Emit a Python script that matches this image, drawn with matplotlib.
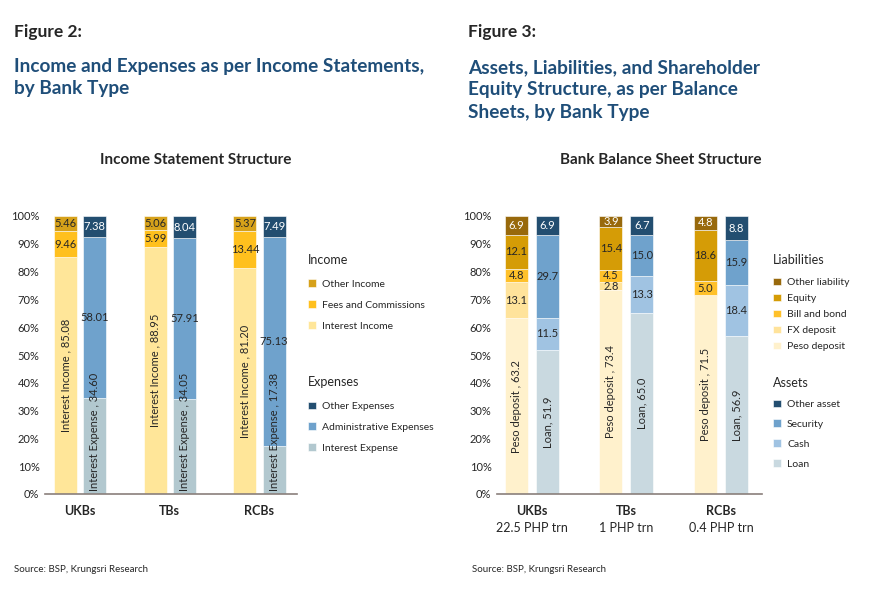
import numpy as np
import matplotlib
matplotlib.use("Agg")
import matplotlib.pyplot as plt
from matplotlib.ticker import PercentFormatter

plt.rcParams['font.family'] = ['Lato', 'DejaVu Sans']

banks = ['UKBs', 'TBs', 'RCBs']
bank_size = ['22.5 PHP trn', '1 PHP trn', '0.4 PHP trn']

# Figure 2: income statement structure (% share)
interest_income = [85.08, 88.95, 81.20]
fees_commissions = [9.46, 5.99, 13.44]
other_income = [5.46, 5.06, 5.37]
interest_expense = [34.60, 34.05, 17.38]
admin_expense = [58.01, 57.91, 75.13]
other_expense = [7.38, 8.04, 7.49]

# Figure 3: balance sheet structure (% share)
peso_deposit = [63.2, 73.4, 71.5]
fx_deposit = [13.1, 2.8, 0.0]
bill_bond = [4.8, 4.5, 5.0]
equity = [12.1, 15.4, 18.6]
other_liab = [6.9, 3.9, 4.8]
loan = [51.9, 65.0, 56.9]
cash = [11.5, 13.3, 18.4]
security = [29.7, 15.0, 15.9]
other_asset = [6.9, 6.7, 8.8]

TXT = '#262626'
NAVY = '#1F4E79'

fig = plt.figure(figsize=(8.7, 6.03), dpi=100)
W, H = 870, 603


def px_axes(x0, x1, ytop, ybot):
    return fig.add_axes([x0 / W, 1 - ybot / H, (x1 - x0) / W, (ybot - ytop) / H])


def stack(ax, xpos, width, series, names, colors, fmt, first_label, dark):
    bottom = np.zeros(len(xpos))
    handles = []
    rot_texts = []
    for k, (vals, name, col) in enumerate(zip(series, names, colors)):
        vals = np.array(vals, dtype=float)
        bars = ax.bar(xpos, vals, width, bottom=bottom, color=col,
                      edgecolor='white', linewidth=0.4, label=name)
        handles.append(bars)
        for i, b in enumerate(bars):
            v = vals[i]
            if v < 1:
                continue
            yc = bottom[i] + v / 2
            if k == 0:
                t = ax.text(b.get_x() + width / 2, yc, first_label.format(name, v),
                            rotation=90, ha='center', va='center', fontsize=8, color=TXT)
                rot_texts.append(t)
            else:
                ax.text(b.get_x() + width / 2, yc, fmt.format(v), ha='center',
                        va='center', fontsize=8,
                        color='white' if k in dark else TXT)
        bottom += vals
    return handles, rot_texts


def style_axes(ax, xlim):
    ax.set_xlim(*xlim)
    ax.set_ylim(0, 100)
    ax.set_yticks(np.arange(0, 101, 10))
    ax.yaxis.set_major_formatter(PercentFormatter(decimals=0))
    for s in ['top', 'right', 'left']:
        ax.spines[s].set_visible(False)
    ax.spines['bottom'].set_color('#8a7f7b')
    ax.spines['bottom'].set_linewidth(1.2)
    ax.tick_params(axis='both', length=0, labelsize=8, colors=TXT)
    ax.tick_params(axis='y', pad=4)
    ax.tick_params(axis='x', pad=8)
    ax.set_xticks(range(len(banks)))
    ax.set_xticklabels(banks, fontweight='bold', fontsize=9)


def fit_inside(ax, texts):
    # keep rotated labels inside the plot area, like the spreadsheet does
    fig.canvas.draw()
    r = fig.canvas.get_renderer()
    inv = ax.transData.inverted()
    for t in texts:
        bb = t.get_window_extent(r)
        y0 = inv.transform((0, bb.y0))[1]
        if y0 < 1.0:
            x, y = t.get_position()
            t.set_position((x, y + (1.0 - y0)))


def add_legends(ax, groups):
    for n, (title, hs, names, x, ytitle, yfirst, sp) in enumerate(groups):
        fig.text(x / W, 1 - ytitle / H, title, fontsize=9, color=TXT, va='center')
        lg = ax.legend(hs, names, loc='upper left',
                       bbox_to_anchor=(x / W, 1 - (yfirst - 3.5) / H),
                       bbox_transform=fig.transFigure,
                       frameon=False, fontsize=7.5,
                       handlelength=0.75, handleheight=0.75, handletextpad=0.6,
                       labelspacing=sp, borderpad=0, borderaxespad=0)
        for t in lg.get_texts():
            t.set_color(TXT)
        if n < len(groups) - 1:
            ax.add_artist(lg)


# ---------------- Figure 2 ----------------
ax1 = px_axes(45, 297, 216, 494)
x = np.arange(len(banks))
w1, off1 = 0.256, 0.162
inc_cols = ['#FFE699', '#FFC01E', '#D6A11A']
exp_cols = ['#B2C8CF', '#6FA2CC', '#234E70']
h_inc, r1 = stack(ax1, x - off1, w1, [interest_income, fees_commissions, other_income],
                  ['Interest Income', 'Fees and Commissions', 'Other Income'],
                  inc_cols, '{:.2f}', '{} , {:.2f}', dark=[])
h_exp, r2 = stack(ax1, x + off1, w1, [interest_expense, admin_expense, other_expense],
                  ['Interest Expense', 'Administrative Expenses', 'Other Expenses'],
                  exp_cols, '{:.2f}', '{} , {:.2f}', dark=[2])
style_axes(ax1, (-0.39, 2.418))
fit_inside(ax1, r1 + r2)
add_legends(ax1, [
    ('Income', h_inc[::-1], ['Other Income', 'Fees and Commissions', 'Interest Income'],
     308, 260, 283, 1.09),
    ('Expenses', h_exp[::-1], ['Other Expenses', 'Administrative Expenses', 'Interest Expense'],
     308, 382, 405, 1.09),
])

# ---------------- Figure 3 ----------------
ax2 = px_axes(497, 762, 216, 494)
w2, off2 = 0.243, 0.164
liab_cols = ['#FFF1CC', '#FFE39B', '#FFC12A', '#D59C06', '#98690C']
asset_cols = ['#C9D9E0', '#A0C3E2', '#6FA2CC', '#234E70']
h_liab, r3 = stack(ax2, x - off2, w2, [peso_deposit, fx_deposit, bill_bond, equity, other_liab],
                   ['Peso deposit', 'FX deposit', 'Bill and bond', 'Equity', 'Other liability'],
                   liab_cols, '{:.1f}', '{} , {:.1f}', dark=[4])
h_asset, r4 = stack(ax2, x + off2, w2, [loan, cash, security, other_asset],
                    ['Loan', 'Cash', 'Security', 'Other asset'],
                    asset_cols, '{:.1f}', '{}, {:.1f}', dark=[3])
style_axes(ax2, (-0.37, 2.434))
for i, s in enumerate(bank_size):
    ax2.text(i, -34 / 278, s, transform=ax2.get_xaxis_transform(), ha='center', va='center',
             fontsize=9, color=TXT)
fit_inside(ax2, r3 + r4)
add_legends(ax2, [
    ('Liabilities', h_liab[::-1], ['Other liability', 'Equity', 'Bill and bond', 'FX deposit', 'Peso deposit'],
     773, 260, 281, 0.63),
    ('Assets', h_asset[::-1], ['Other asset', 'Security', 'Cash', 'Loan'],
     773, 383, 403, 1.01),
])

# ---------------- titles and notes ----------------
fig.text(14 / W, 1 - 32 / H, 'Figure 2:', fontsize=12.5, fontweight='bold', color=TXT, va='center')
fig.text(14 / W, 1 - 77.5 / H, 'Income and Expenses as per Income Statements,\nby Bank Type',
         fontsize=13.7, fontweight='bold', color=NAVY, va='center', linespacing=1.4)
fig.text(468 / W, 1 - 32 / H, 'Figure 3:', fontsize=12.5, fontweight='bold', color=TXT, va='center')
fig.text(468 / W, 1 - 90 / H, 'Assets, Liabilities, and Shareholder\nEquity Structure, as per Balance\nSheets, by Bank Type',
         fontsize=13.7, fontweight='bold', color=NAVY, va='center', linespacing=1.4)
fig.text(196 / W, 1 - 160 / H, 'Income Statement Structure', fontsize=11, fontweight='bold',
         color=TXT, ha='center', va='center')
fig.text(661 / W, 1 - 160 / H, 'Bank Balance Sheet Structure', fontsize=11, fontweight='bold',
         color=TXT, ha='center', va='center')
fig.text(14 / W, 1 - 570 / H, 'Source: BSP, Krungsri Research', fontsize=7, color=TXT, va='center')
fig.text(472 / W, 1 - 570 / H, 'Source: BSP, Krungsri Research', fontsize=7, color=TXT, va='center')

fig.savefig('out.png', dpi=100)
